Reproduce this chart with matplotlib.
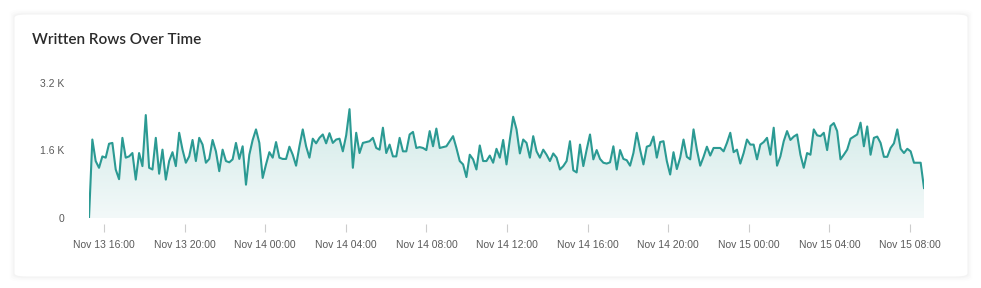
import numpy as np
import pandas as pd
import matplotlib.pyplot as plt
import matplotlib.dates as mdates
from matplotlib.patches import FancyBboxPatch, Polygon
from matplotlib.ticker import FuncFormatter

# written rows (thousands), roughly 10 min apart
rows_k = [
    0.00, 1.86, 1.35, 1.19, 1.46, 1.43, 1.76, 1.78, 1.15, 0.92, 1.90, 1.43, 1.46, 1.54,
    0.91, 1.54, 1.23, 2.44, 1.19, 1.15, 1.90, 1.05, 1.62, 0.91, 1.35, 1.56, 1.23, 2.02,
    1.62, 1.31, 1.46, 1.85, 1.35, 1.90, 1.74, 1.31, 1.40, 1.85, 1.58, 1.11, 1.62, 1.35,
    1.32, 1.39, 1.78, 1.40, 1.70, 0.79, 1.50, 1.85, 2.10, 1.78, 0.95, 1.27, 1.56, 1.43,
    1.80, 1.43, 1.40, 1.40, 1.69, 1.50, 1.24, 1.70, 2.10, 1.70, 1.43, 1.88, 1.77, 1.90,
    1.98, 1.77, 2.01, 1.78, 1.86, 1.88, 1.58, 1.96, 2.58, 1.19, 2.02, 1.54, 1.78, 1.80,
    1.82, 1.90, 1.66, 1.62, 2.14, 1.54, 1.74, 1.46, 1.46, 1.90, 1.58, 1.58, 1.98, 2.04,
    1.66, 1.68, 1.66, 1.61, 2.06, 1.70, 2.12, 1.66, 1.68, 1.70, 1.82, 1.94, 1.66, 1.35,
    1.27, 0.97, 1.50, 1.39, 1.15, 1.72, 1.35, 1.35, 1.48, 1.31, 1.64, 1.43, 1.85, 1.27,
    1.86, 2.40, 2.10, 1.53, 1.86, 1.78, 1.43, 1.94, 1.58, 1.43, 1.62, 1.50, 1.35, 1.53,
    1.43, 1.15, 1.23, 1.35, 1.82, 1.13, 1.08, 1.74, 1.23, 1.62, 1.98, 1.39, 1.61, 1.40,
    1.31, 1.29, 1.32, 1.70, 1.15, 1.61, 1.40, 1.37, 1.24, 1.54, 2.02, 1.62, 1.27, 1.69,
    1.72, 1.93, 1.43, 1.80, 1.82, 1.35, 1.03, 1.56, 1.16, 1.43, 1.86, 1.45, 1.39, 2.10,
    1.62, 1.24, 1.45, 1.69, 1.48, 1.66, 1.66, 1.66, 1.58, 1.78, 2.02, 1.56, 1.62, 1.29,
    1.54, 1.86, 1.74, 1.74, 1.39, 1.74, 1.80, 1.90, 1.50, 2.14, 1.24, 1.46, 1.82, 2.06,
    1.85, 1.93, 1.98, 1.50, 1.19, 1.54, 1.50, 2.10, 1.96, 1.94, 2.02, 1.61, 2.18, 2.25,
    2.06, 1.39, 1.50, 1.62, 1.88, 1.93, 1.98, 2.26, 1.70, 2.17, 1.50, 1.90, 1.93, 1.78,
    1.45, 1.45, 1.66, 1.77, 2.10, 1.64, 1.54, 1.64, 1.58, 1.31, 1.31, 1.31, 0.71,
]
t_start = '2024-11-13 15:15'
t_end = '2024-11-15 08:42'
y_ticks = [0, 1600, 3200]
x_ticks = pd.date_range('2024-11-13 16:00', '2024-11-15 08:00', freq='4h')

times = pd.date_range(t_start, t_end, periods=len(rows_k))
rows = np.array(rows_k) * 1000

line_c = '#2b9a93'
W, H = 981, 288
fig = plt.figure(figsize=(W / 100, H / 100), dpi=100)
fig.patch.set_facecolor('white')

# card with a faint shadow
for i, a in enumerate([0.008, 0.01, 0.014]):
    d = (3 - i) * 1.5
    fig.patches.append(FancyBboxPatch(
        ((14 - d) / W, (11 - d) / H), (954 + 2 * d) / W, (263 + 2 * d) / H,
        boxstyle='round,pad=0,rounding_size=0.012', transform=fig.transFigure,
        facecolor='black', edgecolor='none', alpha=a, zorder=-3))
fig.patches.append(FancyBboxPatch(
    (14 / W, 11 / H), 954 / W, 263 / H,
    boxstyle='round,pad=0,rounding_size=0.012', transform=fig.transFigure,
    facecolor='white', edgecolor='#f3f3f3', lw=0.8, zorder=-2))

fig.text(32 / W, 1 - 40 / H, 'Written Rows Over Time', fontsize=11,
         fontweight='semibold', family='Lato', color='#2b2b2b', va='center')

ax = fig.add_axes([89 / W, (H - 218) / H, (924 - 89) / W, (218 - 83) / H])
ax.set_zorder(5)
ax.patch.set_visible(False)

xn = mdates.date2num(times)
ax.plot(xn, rows, color=line_c, lw=1.5, solid_joinstyle='round', zorder=3)

# gradient fill under the line
grad = np.linspace(0, 1, 256).reshape(-1, 1)
img = ax.imshow(grad, extent=[xn[0], xn[-1], 0, 3200], origin='lower', aspect='auto',
                cmap=plt.matplotlib.colors.LinearSegmentedColormap.from_list(
                    'g', ['#f3f9f9', '#c9e6e3']), zorder=2)
verts = np.vstack([[xn[0], 0], np.column_stack([xn, rows]), [xn[-1], 0]])
clip = Polygon(verts, closed=True, transform=ax.transData, facecolor='none', edgecolor='none')
ax.add_patch(clip)
img.set_clip_path(clip)

ax.set_xlim(xn[0], xn[-1])
ax.set_ylim(0, 3200)
ax.set_yticks(y_ticks)
ax.yaxis.set_major_formatter(FuncFormatter(lambda v, p: '0' if v == 0 else f'{v / 1000:.1f} K'))
ax.set_xticks(mdates.date2num(x_ticks))
ax.set_xticklabels([d.strftime('%b %d %H:%M') for d in x_ticks])

for s in ax.spines.values():
    s.set_visible(False)
ax.spines['bottom'].set_position(('outward', 4))
ax.tick_params(axis='x', length=6, width=0.8, color='#cccccc', pad=6,
               labelsize=7.5, labelcolor='#5a5a5a')
ax.tick_params(axis='y', length=0, pad=18, labelsize=7.5, labelcolor='#5a5a5a')
for lab in ax.get_xticklabels() + ax.get_yticklabels():
    lab.set_family('Liberation Sans')

fig.savefig('out.png', dpi=100, facecolor='white')
